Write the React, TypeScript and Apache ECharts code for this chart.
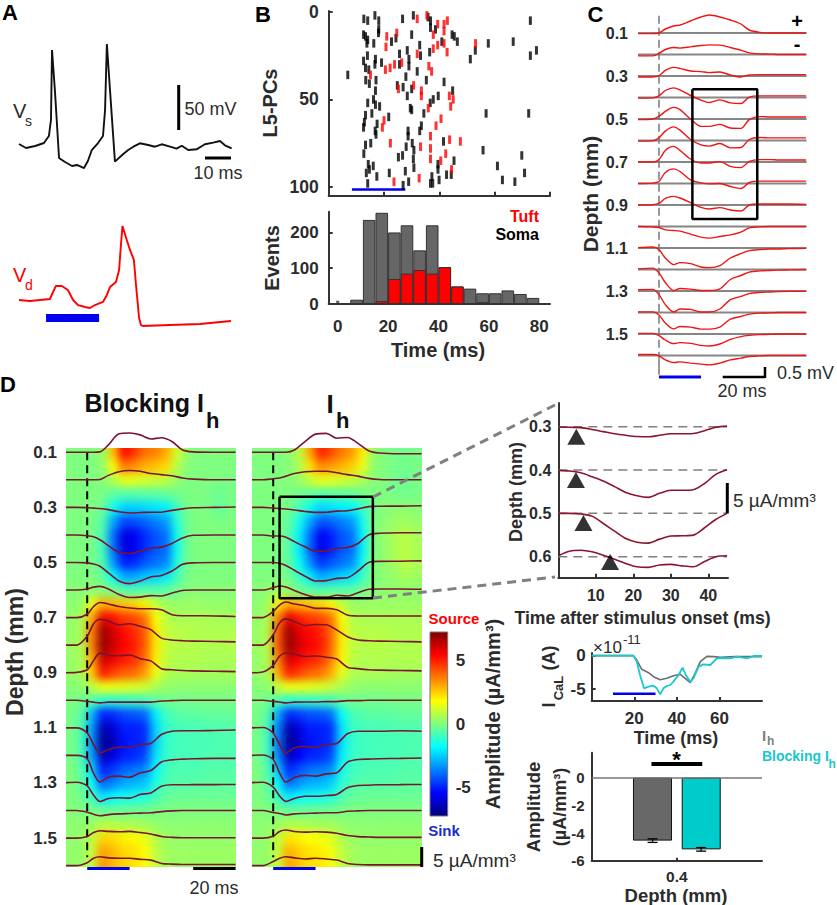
import React, { useEffect, useRef } from "react";
import * as echarts from "echarts";

const FONT = "Liberation Sans";
const INK = "#2b2b2b";
const JET = ["#00007f", "#0000ff", "#007fff", "#00ffff", "#7fff7f", "#ffff00", "#ff7f00", "#ff0000", "#7f0000"];

// Panel A
const VS_T = [0,2.7,6.2,9.6,11.5,12.3,12.7,13.8,15.4,17.7,20.4,22.3,25,26.5,28,30.4,32.3,33.1,33.8,35,36.9,40.1,42,44,46.5,49.7,52.3,54.9,58.1,60.6,62.6,65.1,68.3,71.5,74.7,77.3,79.2,81.8];
const VS_V = [-63.9,-68.3,-66.1,-62.8,-55,-37.2,40.6,-3.9,-79.4,-83.9,-88.3,-87.2,-90.6,-82.8,-70.6,-62.8,-55,-26.1,47.2,-3.9,-83.5,-75,-70.6,-66.9,-63.1,-65,-66.9,-64.2,-66.9,-69.1,-65.8,-70.6,-69.8,-64.2,-62.4,-60.6,-65.3,-68.7];
const VD_T = [0,4.2,8.1,11.9,13.1,14.2,16.5,18.8,20.8,22.7,25.4,27.3,29.2,32.3,33.8,35,37.3,38.5,39.2,39.8,41.2,42.7,44.2,45,46.2,46.9,47.7,58,69.6,81.5];
const VD_V = [-70,-71.1,-70,-68.9,-61.1,-54.4,-54.4,-58.9,-70,-75.6,-77.8,-78.9,-75.6,-72.2,-64.4,-55.6,-50,-36.7,-8.9,12.2,-1.1,-14.4,-25.6,-53.3,-90,-97.8,-98.9,-97.8,-96.7,-93.3];

// Panel B: raster [time ms, cell]
const SPIKES_SOMA = [[12.7,4],[14.1,5],[16.7,2],[18.1,5],[18.1,10],[26.7,4],[30.6,2],[35.9,3],[36.8,5],[36.8,9],[38.6,10],[72.9,5],[12.6,13],[13.3,14],[14.1,16],[16.3,18],[13.8,18],[18,12],[22.7,17],[24.3,15],[30,13],[44.6,13],[45.4,14],[46.5,17],[40.9,17],[32.9,19],[57.7,18],[66.7,17],[53,22],[51.2,27],[75.1,22],[72.9,25],[12.6,28],[14,25],[13.3,32],[14.5,33],[16.9,27],[16.7,30],[19.1,29],[25.6,24],[25.6,30],[28.4,22],[29,27],[29,31],[33.2,25],[32,34],[36.5,23],[6.9,36],[13.4,39],[14.7,41],[17.1,39],[27.9,37],[35.3,39],[41.7,40],[24.8,42],[26.9,43],[30,44],[28.4,48],[16.9,45],[16.2,50],[16.9,53],[18.4,54],[14.1,52],[44.8,45],[39.6,48],[37.8,50],[36.7,52],[29.5,55],[30,56],[34.4,58],[15.6,58],[21.7,60],[56.9,58],[72.3,58],[13.3,59],[12.9,63],[12.6,66],[17.5,64],[17.1,70],[16.8,68],[28.7,68],[28.7,71],[33.5,65],[32.9,68],[15.2,75],[13.3,76],[12.7,81],[30.2,75],[28,77],[30.8,79],[26.7,82],[25.2,83],[30.6,84],[41.5,74],[55.8,79],[69.8,82],[14.3,87],[14.7,90],[16.1,88],[30.8,89],[45.3,85],[61,88],[39.5,87],[39.5,90],[21.9,92],[27.7,91],[17.4,94],[13.6,92],[14.1,98],[28.9,97],[26.9,99],[37.3,94],[36.8,98],[37.6,98],[39.9,96],[42.6,93],[44.3,93],[62.8,96],[67.3,97],[70.8,92]];
const SPIKES_TUFT = [[32,4],[35.5,2],[39.4,7],[41.7,7],[41.7,11],[42.9,5],[37.8,13],[21,14],[24.6,12],[20.7,20],[37.8,21],[39.4,19],[41.7,18],[42.8,23],[53.1,18],[32,24],[20.5,33],[22.2,32],[23.8,30],[26.4,29],[36.2,31],[37.2,34],[15.1,36],[25.2,44],[30.7,42],[33.5,45],[33.5,48],[43.6,48],[44.1,54],[45,50],[36,55],[20,62],[19.4,66],[40.6,61],[38.8,65],[36.8,71],[22.3,75],[33.2,77],[36.8,78],[43.7,73],[47.6,74],[42.3,81],[36.8,84],[40.5,85],[44.4,90],[32.7,95],[23.6,97]];
const HIST_SOMA = [[7.5,12],[12.5,235],[17.5,255],[22.5,200],[27.5,220],[32.5,150],[37.5,220],[42.5,103],[47.5,49],[52.5,43],[57.5,30],[62.5,30],[67.5,38],[72.5,28],[77.5,17]];
const HIST_TUFT = [[17.5,8],[22.5,70],[27.5,85],[32.5,95],[37.5,85],[42.5,103],[47.5,49],[57.5,5]];
const HIST_STRAY = [[0,5]];

// Panel C: LFP (mV) per depth
const C_DEPTHS = [0.1,0.2,0.3,0.4,0.5,0.6,0.7,0.8,0.9,1.0,1.1,1.2,1.3,1.4,1.5,1.6];
const C_T = [-10,-3,0,3,7,10,15,20,24,29,34,39,43,48,53,57,62,70];
const C_LFP = [
  [-.03,-.03,0,.2,.35,.4,.6,.8,.9,.8,.65,.45,.15,.03,0,0,0,0],
  [-.07,-.07,.05,.25,.35,.32,.38,.45,.48,.47,.35,.22,.08,.03,.02,0,0,0],
  [-.05,-.05,.02,.28,.43,.38,.25,.22,.17,.2,.05,-.05,.05,.07,.07,.07,.07,.07],
  [-.03,-.02,.08,.35,.48,.38,.1,-.13,-.25,-.12,-.27,-.3,.02,.08,.08,.08,.08,.08],
  [-.03,0,.13,.38,.58,.47,0,-.37,-.37,-.27,-.45,-.47,-.03,.12,.1,.1,.1,.1],
  [-.03,-.02,.13,.47,.68,.52,.05,-.22,-.28,-.15,-.37,-.35,.05,.15,.13,.13,.13,.13],
  [0,0,.12,.58,.78,.58,.15,-.05,-.05,.02,-.22,-.28,.03,.12,.12,.1,.1,.1],
  [0,.02,.1,.55,.73,.6,.18,.03,-.02,0,-.15,-.25,.05,.12,.12,.12,.12,.12],
  [0,.02,.08,.33,.43,.35,.12,-.12,-.2,-.13,-.25,-.3,0,.05,.05,.05,.05,.03],
  [0,-.02,-.05,-.17,-.2,-.23,-.38,-.53,-.58,-.5,-.42,-.28,-.07,-.02,0,0,0,0],
  [.02,.05,-.08,-.5,-.83,-.73,-.78,-.95,-.98,-.88,-.5,-.28,-.13,-.08,-.05,-.05,-.03,-.02],
  [.03,.07,-.17,-.65,-1.05,-.95,-.98,-1.05,-1.05,-.97,-.5,-.3,-.13,-.07,-.05,-.03,-.02,0],
  [.07,.08,-.18,-.68,-1.05,-.9,-.92,-1.05,-1.05,-.9,-.43,-.27,-.13,-.07,-.05,-.03,-.02,-.02],
  [.03,.03,-.12,-.53,-.82,-.7,-.73,-.83,-.83,-.73,-.33,-.2,-.08,-.03,-.02,0,0,0],
  [.03,.03,-.08,-.3,-.48,-.43,-.47,-.57,-.6,-.5,-.27,-.13,-.07,-.03,-.02,0,0,0],
  [.05,.05,-.02,-.22,-.35,-.32,-.38,-.43,-.47,-.38,-.22,-.13,-.05,-.02,0,0,0,0],
];

// Panel D: traces (uA/mm3)
const D_T = [-10,-5,0,3,6,10,15,20,25,30,35,40,45,50,60,70];
const D_BLOCK_TRACES = [
  [0,0,0,0,.1,2,5,5.2,4.7,3.6,3.9,2.9,.6,.1,0,0],
  [0,0,0,0,.1,1.2,2.2,2.5,2.3,1.7,1.4,1.1,.5,.2,0,0],
  [0,0,-.1,-.2,-.3,-.6,-1.2,-1.5,-1.4,-1.3,-1.3,-.8,-.4,-.1,0,.1],
  [0,0,-.2,-.5,-1.3,-2.9,-4.7,-5,-4.4,-3.6,-3.3,-2.3,-.8,-.1,0,0],
  [0,0,-.1,-.4,-1,-2.8,-5,-5.7,-5,-3.9,-3.5,-2.3,-.5,-.1,0,0],
  [0,0,.3,.8,1,.3,-1.2,-2,-1.9,-1.5,-1.6,-.8,-.1,0,0,0],
  [0,0,.9,3,4.1,3.7,3,2.6,2.4,2.4,2.1,.8,.5,.5,.45,.3],
  [0,0,2.4,5.8,7,6.5,5.5,5.8,5.1,4.2,1.9,1.4,1.2,1.1,1,.9],
  [0,.1,.8,3.3,5.3,4.7,4.6,4.8,3.8,3.2,1.1,.8,.6,.5,.4,.3],
  [0,0,-.3,-.5,-.7,-.5,-.5,-.5,-.5,-.5,-.2,-.1,0,0,0,0],
  [0,0,-1.4,-4.5,-6.8,-5.9,-5.2,-5.3,-4.5,-4.2,-1.8,-.9,-.8,-.8,-.7,-.6],
  [0,0,-.9,-4.8,-7.2,-5.9,-5.6,-5.9,-4.7,-4.1,-1.8,-1.2,-1,-.9,-.8,-.8],
  [.1,.2,-.8,-3.3,-5,-4.2,-4,-4.1,-3.1,-2.7,-.9,-.5,-.5,-.45,-.45,-.4],
  [0,0,-.45,-1,-1.4,-1.1,-.9,-.8,-.7,-.6,-.3,-.1,0,0,0,0],
  [0,0,.45,1.5,2,1.8,1.7,1.8,1.5,1.1,.45,.2,.1,.1,.1,.1],
  [0,0,.8,2,2.4,2.1,2,2,1.7,1.5,.6,.4,.3,.3,.3,.3],
];
const D_IH_TRACES = [
  [0,0,0,0,0,.6,2.9,4.9,5.1,3.8,4,2.4,.4,-.2,-.4,-.4],
  [0,0,.3,.5,1,1.7,2.2,2.3,2.3,1.9,1.4,1,.4,.1,0,0],
  [0,0,-.2,-.3,-.45,-.7,-1.1,-1.35,-1.3,-1,-.9,-.4,.2,.3,.35,.45],
  [0,0,-.3,-.3,-.6,-1.8,-3.2,-4.4,-4.3,-3.6,-3.4,-2.3,0,.45,.6,.6],
  [0,0,0,-.2,-.8,-2.1,-3.7,-5,-4.9,-4.3,-4.1,-2.3,0,.3,.35,.45],
  [0,0,.6,1.1,.8,-.1,-1.2,-1.9,-1.9,-1.4,-1.6,-.7,.2,.3,.3,.2],
  [0,0,1.6,3.4,4.2,3.7,3.2,2.5,2.5,2.1,.7,.45,.45,.45,.45,.45],
  [0,0,2.8,6,7.1,6.4,5.3,5.6,5.5,4.1,2.3,1.4,1.2,1.1,1,.9],
  [0,.2,2,4.5,5.4,5,4.4,4.5,4.2,3.7,1.5,1.1,.8,.7,.6,.5],
  [0,0,-.3,-.45,-.7,-.5,-.45,-.45,-.35,-.35,-.1,-.1,0,0,0,0],
  [0,.1,-1.4,-4.5,-6.8,-5.4,-5,-5.3,-4.5,-4.2,-1.6,-.9,-.9,-.9,-.8,-.9],
  [0,.1,-1.1,-4.7,-7.2,-6,-5.4,-5.6,-5,-4.7,-1.8,-1.1,-1,-.9,-.8,-.7],
  [.1,.2,-1.1,-3.5,-5,-4.2,-3.6,-3.6,-3.4,-3.1,-1.3,-.7,-.6,-.5,-.45,-.4],
  [0,0,-.5,-.8,-1.2,-.9,-.8,-.7,-.6,-.6,-.2,-.1,0,0,0,0],
  [0,0,.5,1.8,2.2,1.8,1.6,1.7,1.6,1.3,.7,.4,.3,.2,.2,.2],
  [0,0,1.1,2,2.4,2.1,1.8,2,1.8,1.5,.6,.3,.2,.2,.2,.2],
];

// Panel D: amplitude maps; rows 0.10..1.60 mm step .05, cols -7.5..67.5 ms step 5
const HEAT_BLOCK = [
  [0,0,0,.3,2.6,5.4,4.6,3.8,3.6,3,1.2,.2,0,0,0,0],
  [0,0,0,.2,1.8,3.7,3.4,2.9,2.7,2.3,.8,.1,0,0,0,0],
  [0,0,0,.1,.7,1.5,1.4,1.2,1.1,.9,.3,0,0,0,-.1,-.1],
  [0,0,0,-.1,-.5,-.6,-.6,-.5,-.5,-.4,-.2,-.1,0,-.1,-.3,-.1],
  [0,0,0,-.3,-1.6,-2.4,-2.4,-2.3,-2.1,-2,-.9,-.1,0,-.1,-.4,-.1],
  [0,0,-.1,-.6,-3,-4.4,-4.3,-4,-3.6,-3.2,-1.3,-.2,0,0,-.1,0],
  [0,0,-.1,-.8,-3.8,-5.8,-5.6,-4.8,-4.2,-3.8,-1.6,-.2,0,0,0,0],
  [0,0,-.1,-.8,-3.8,-6,-5.6,-4.8,-4.2,-3.9,-1.6,-.2,0,0,0,0],
  [0,0,-.1,-.7,-3.2,-5,-4.8,-4.2,-3.8,-3.5,-1.4,-.2,0,0,0,0],
  [0,0,0,-.4,-1.8,-3,-3,-2.6,-2.4,-2.1,-.9,-.1,0,0,0,0],
  [.1,.1,.2,.1,-.2,-.6,-.7,-.6,-.6,-.5,-.2,.1,.1,.1,.1,.1],
  [.2,.3,1.6,3,2.8,2.6,2.4,2,1,.5,.3,.4,.4,.3,.3,.3],
  [.3,.5,3,5.7,5.2,4.6,4.4,3.8,1.8,.8,.6,.6,.6,.6,.5,.5],
  [.3,.6,3.6,6.8,6,5.3,4.8,4.1,2.1,1,.8,.8,.7,.7,.7,.7],
  [.4,.6,3.6,6.9,6.1,5.4,5,4.1,2.1,1,.8,.8,.7,.7,.7,.7],
  [.3,.6,3,6.2,5.6,5.1,4.7,3.9,2,.9,.7,.7,.7,.6,.6,.6],
  [.3,.5,2.5,5.1,4.5,4.1,3.9,3.2,1.6,.7,.6,.6,.5,.5,.5,.5],
  [.1,.2,.8,1.6,1.5,1.4,1.3,1.1,.6,.3,.2,.2,.2,.2,.2,.2],
  [0,-.2,-.6,-1.2,-1.2,-1.1,-1,-.9,-.5,-.2,-.2,-.2,-.1,-.1,-.1,-.1],
  [-.1,-.5,-2.8,-5,-4.8,-4.4,-4.2,-4,-2,-.9,-.6,-.5,-.5,-.4,-.4,-.4],
  [-.1,-.7,-3.2,-6.5,-6,-5,-5,-4.8,-2.4,-1.1,-.9,-.8,-.8,-.7,-.7,-.6],
  [-.1,-.7,-3.4,-7,-6.5,-5.2,-5,-4.8,-2.4,-1.1,-.9,-.8,-.8,-.8,-.7,-.7],
  [-.1,-.7,-3.2,-6.5,-5.8,-5,-4.8,-4.4,-2.2,-1,-.8,-.8,-.8,-.7,-.7,-.7],
  [0,-.5,-2.3,-5,-4.6,-4,-3.8,-3.5,-1.8,-.9,-.7,-.7,-.7,-.6,-.6,-.6],
  [0,-.4,-1.7,-4,-3.5,-3,-2.8,-2.6,-1.4,-.7,-.6,-.6,-.5,-.5,-.5,-.5],
  [0,-.2,-.9,-2.2,-1.8,-1.6,-1.5,-1.3,-.8,-.4,-.3,-.3,-.3,-.3,-.3,-.3],
  [.1,0,-.1,-.3,-.3,-.3,-.2,-.2,-.1,0,0,0,0,0,0,0],
  [.2,.2,.4,.8,.8,.7,.6,.5,.3,.2,.2,.2,.2,.2,.2,.2],
  [.2,.3,.9,2.4,2.3,2,1.9,1.5,.8,.4,.3,.3,.3,.3,.3,.3],
  [.3,.3,1,3.2,2.8,2.4,2.2,1.8,.9,.5,.4,.4,.4,.4,.4,.4],
  [.3,.3,1,3.3,2.8,2.4,2.2,1.8,.9,.5,.4,.4,.4,.4,.4,.4],
];
const HEAT_IH = [
  [0,0,0,.1,.8,3,5,4.4,3.7,3.2,2,.3,0,-.1,-.2,-.1],
  [0,0,0,.1,.6,2.2,3.5,3.2,2.9,2.5,1.5,.2,0,-.1,-.2,-.1],
  [0,0,0,.1,.3,1,1.5,1.4,1.2,1,.6,.1,0,-.2,-.3,-.1],
  [0,0,0,0,-.2,-.4,-.6,-.5,-.5,-.4,-.2,0,0,-.1,-.2,-.1],
  [0,0,0,-.2,-.8,-1.6,-2.3,-2.2,-2,-1.9,-1,-.2,.1,.1,.2,.1],
  [0,0,-.1,-.4,-1.5,-3,-4.2,-4,-3.6,-3.2,-1.6,-.1,.2,.4,.5,.3],
  [0,0,-.1,-.5,-1.9,-3.8,-5.6,-5,-4.2,-3.8,-1.9,-.1,.3,.6,.8,.5],
  [0,0,-.1,-.5,-2,-4,-5.8,-5,-4.2,-3.9,-1.9,-.1,.3,.6,.9,.6],
  [0,0,-.1,-.4,-1.7,-3.3,-4.7,-4.2,-3.8,-3.4,-1.6,0,.3,.5,.9,.6],
  [0,0,0,-.2,-1,-2,-3,-2.7,-2.4,-2.1,-1,0,.2,.3,.6,.4],
  [.1,.2,.6,.2,-.2,-.5,-.7,-.6,-.6,-.5,-.2,.1,.2,.2,.3,.2],
  [.2,.4,2,3.1,2.8,2.6,2.4,2,1,.4,.4,.4,.4,.4,.4,.4],
  [.3,.6,3.6,5.8,5,4.6,4.4,3.8,1.8,.7,.6,.6,.6,.6,.6,.6],
  [.3,.7,4.2,6.8,5.8,5.3,5,4,2,.9,.8,.8,.8,.7,.7,.7],
  [.4,.7,4.2,6.9,6,5.5,5.1,4,2,.9,.8,.8,.8,.7,.7,.7],
  [.3,.6,3.6,6.1,5.4,5,4.7,3.7,1.9,.8,.7,.7,.7,.7,.7,.7],
  [.3,.5,3,5,4.5,4,3.8,3,1.5,.7,.6,.6,.6,.5,.5,.5],
  [.1,.2,1,1.6,1.5,1.4,1.3,1,.6,.3,.2,.2,.2,.2,.2,.2],
  [0,-.2,-.7,-1.2,-1.2,-1.1,-1,-.9,-.4,-.2,-.2,-.2,-.2,-.1,-.1,-.1],
  [-.1,-.5,-3,-4.9,-4.6,-4.3,-4.2,-3.9,-1.8,-.8,-.6,-.5,-.5,-.5,-.4,-.4],
  [-.1,-.8,-3.6,-6.6,-5.8,-5,-5,-4.8,-2.2,-1,-.9,-.8,-.8,-.7,-.7,-.7],
  [-.1,-.8,-3.8,-7,-6.2,-5.2,-5,-4.8,-2.2,-1.1,-.9,-.9,-.8,-.8,-.8,-.7],
  [-.1,-.8,-3.5,-6.4,-5.5,-4.9,-4.8,-4.4,-2,-1,-.9,-.8,-.8,-.8,-.7,-.7],
  [0,-.6,-2.6,-4.9,-4.3,-3.8,-3.7,-3.4,-1.6,-.9,-.8,-.7,-.7,-.7,-.6,-.6],
  [0,-.4,-1.9,-3.9,-3.3,-2.9,-2.8,-2.5,-1.2,-.7,-.6,-.6,-.6,-.5,-.5,-.5],
  [0,-.2,-1,-2.1,-1.7,-1.6,-1.5,-1.3,-.7,-.4,-.3,-.3,-.3,-.3,-.3,-.3],
  [.1,0,-.1,-.3,-.3,-.3,-.2,-.2,-.1,0,0,0,0,0,0,0],
  [.2,.2,.4,.7,.7,.6,.5,.5,.3,.2,.2,.2,.2,.2,.2,.2],
  [.2,.3,.9,2.2,2,1.8,1.7,1.4,.7,.4,.3,.3,.3,.3,.3,.3],
  [.3,.3,1,3,2.5,2.2,2.1,1.7,.9,.5,.4,.4,.4,.4,.4,.4],
  [.3,.3,1,3.1,2.6,2.2,2.1,1.7,.9,.5,.4,.4,.4,.4,.4,.4],
];

// Inset of D
const INSET_DEPTHS = [0.3,0.4,0.5,0.6];
const INSET_T = [0,3,6,9,12,15,18,21,24,27,30,33,36,39,42,45];
const INSET_TRACES = [
  [-.05,-.1,-.15,-.45,-.8,-1.15,-1.4,-1.6,-1.65,-1.4,-1.15,-1.15,-1.1,-.65,-.1,.1],
  [-.05,-.15,-.45,-1.1,-1.8,-2.7,-3.65,-4.2,-4.45,-3.8,-3.3,-3.3,-3.2,-2.2,-.7,.05],
  [0,0,-.1,-.45,-1.65,-2.9,-4.1,-4.7,-4.85,-4.2,-3.7,-3.65,-3.55,-2.35,-1,0],
  [.15,.9,1.05,.8,.25,-.4,-1.1,-1.65,-1.75,-1.35,-1.25,-1.5,-1.65,-.8,0,.15],
];
const ONSETS = [[4.8,.323],[4.7,.423],[6.7,.522],[13.8,.612]];

// I_CaL
const CAL_IH = [[0,0],[19.6,0],[21.2,-.65],[23.5,-2.05],[26.7,-2.55],[29,-3.15],[32.2,-3.6],[35.3,-3.4],[38.4,-3],[41.6,-2.8],[43.9,-3.4],[46.3,-4.05],[48.6,-2.65],[51,-.9],[54.1,-.1],[57.3,-.15],[60.4,-.25],[66.7,-.15],[73,-.15],[80,-.15]];
const CAL_BLOCK_T = [0,19.6,21.2,22.7,24.6,26.7,29,30.6,32.2,33.7,35.3,36.9,38.4,40.8,42.7,44.2,46.3,47.8,50.2,52.5,55.7,58.8,62,65.1,68.2,73,76.1,80];
const CAL_BLOCK_V = [0,0,-.9,-2.9,-4.9,-4.65,-4.5,-4.9,-5.8,-4.9,-4.55,-4.4,-3.9,-2.9,-1.8,-2.9,-3.9,-3.4,-1.65,-1.3,-1.4,-.4,-.35,-.4,-.15,-.4,-.05,-.05];

// Bar panel
const BAR_CATS = ["0.4"];
const BAR_IH = [-4.55];
const BAR_BLOCK = [-5.18];
const BAR_ERR = 0.13;

const zip = (a: number[], b: number[]) => a.map((v, i) => [v, b[i]]);

function buildMain() {
  const grid: any[] = [], xAxis: any[] = [], yAxis: any[] = [], series: any[] = [], graphic: any[] = [];
  const spine = { lineStyle: { color: "#333", width: 2 } };
  const tickL = (size: number) => ({ color: INK, fontFamily: FONT, fontWeight: "bold", fontSize: size });
  const hidden = (min: number, max: number, inverse = false) => ({ type: "value", show: false, min, max, inverse, splitLine: { show: false } });

  const panel = (r: number[], x: any, y: any) => {
    grid.push({ left: r[0], top: r[1], width: r[2], height: r[3], containLabel: false });
    xAxis.push({ gridIndex: grid.length - 1, ...x });
    yAxis.push({ gridIndex: grid.length - 1, ...y });
    return grid.length - 1;
  };
  const line = (g: number, data: any[], color: string, width: number, extra: any = {}) => {
    series.push({ type: "line", xAxisIndex: g, yAxisIndex: g, data, symbol: "none", clip: false, silent: true,
      lineStyle: { color, width, type: extra.dash || "solid", cap: "butt" }, smooth: extra.smooth || false, z: extra.z || 3 });
  };
  const valAxis = (min: number, max: number, ticks: number[], o: any = {}) => ({
    type: "value", min, max, inverse: !!o.inverse, position: o.position, splitLine: { show: false },
    axisLine: { show: o.line !== false, onZero: false, ...spine },
    axisTick: { show: o.tick !== false, inside: true, length: o.tickLen || 4, customValues: ticks, lineStyle: { color: "#333", width: 2 } },
    axisLabel: o.noLabel ? { show: false } : { ...tickL(o.size || 16), margin: o.margin ?? 8, customValues: ticks, hideOverlap: false, formatter: o.fmt },
  });
  const txt = (x: number, y: number, text: string, o: any = {}) => {
    graphic.push({ type: "text", x, y, rotation: o.rot ? Math.PI / 2 : 0, silent: true, z: 20,
      style: { text, fontSize: o.size || 16, fontWeight: o.bold ? "bold" : "normal", fontStyle: o.italic ? "italic" : "normal",
        fill: o.color || INK, fontFamily: FONT, align: o.align || "center", verticalAlign: "middle" } });
  };
  const seg = (x1: number, y1: number, x2: number, y2: number, color: string, w: number, dash?: number[]) => {
    graphic.push({ type: "line", silent: true, z: 20, shape: { x1, y1, x2, y2 }, style: { stroke: color, lineWidth: w, lineDash: dash || null } });
  };

  // ---- A
  const a1 = panel([19, 41.5, 213.2, 135], hidden(0, 82), hidden(-100, 50));
  line(a1, zip(VS_T, VS_V), "#111", 1.9);
  const a2 = panel([19, 214.5, 213.2, 121.5], hidden(0, 82), hidden(-110, 25));
  line(a2, zip(VD_T, VD_V), "#ff0000", 1.9);
  line(a2, [[10.4, -90], [30.8, -90]], "#0000ee", 8);
  seg(178.7, 85, 178.7, 130, "#000", 3);
  seg(205, 158, 231, 158, "#000", 3);
  txt(210.5, 109, "50 mV", { size: 18 });
  txt(218, 173, "10 ms", { size: 18 });
  txt(13, 111, "V", { size: 20, align: "left" });
  txt(25, 121, "s", { size: 14, align: "left" });
  txt(13, 275, "V", { size: 20, align: "left", color: "#ff0000" });
  txt(25, 285, "d", { size: 14, align: "left", color: "#ff0000" });
  txt(10, 12, "A", { size: 22, bold: true, color: "#000" });
  txt(263, 14, "B", { size: 22, bold: true, color: "#000" });
  txt(595.5, 14, "C", { size: 22, bold: true, color: "#000" });
  txt(8, 384, "D", { size: 22, bold: true, color: "#000" });

  // ---- B raster
  const b1 = panel([328.7, 11, 221.3, 184.7],
    valAxis(0, 80, [20, 40, 60, 80], { noLabel: true, position: "bottom" }),
    valAxis(-0.5, 105, [0, 50, 100], { inverse: true, margin: 10, tickLen: 4, size: 17.5 }));
  const raster = (data: number[][], color: string) => series.push({ type: "scatter", xAxisIndex: b1, yAxisIndex: b1, data, symbol: "rect", symbolSize: [3, 8.5], clip: false, silent: true,
    itemStyle: { color }, z: 3 });
  raster(SPIKES_SOMA, "#000");
  raster(SPIKES_TUFT, "#ff0000");
  line(b1, [[8.4, 101.4], [27.7, 101.4]], "#0000ee", 2.5);
  txt(270, 103, "L5-PCs", { size: 20, bold: true, rot: true });

  // ---- B histogram
  const b2 = panel([328.7, 211.7, 221.3, 92.3],
    valAxis(-3.57, 84.25, [0, 20, 40, 60, 80], { tick: false, margin: 14, size: 17 }),
    valAxis(0, 258, [0, 100, 200], { margin: 10, size: 17 }));
  const hist = (data: number[][], color: string) => series.push({ type: "bar", xAxisIndex: b2, yAxisIndex: b2, data, barWidth: 12.6, barGap: "-100%", silent: true,
    itemStyle: { color, borderColor: "#333", borderWidth: 1 } });
  hist(HIST_SOMA, "#666666");
  hist(HIST_TUFT, "#ff0000");
  series.push({ type: "scatter", xAxisIndex: b2, yAxisIndex: b2, data: HIST_STRAY, symbol: "rect", symbolSize: [3, 3], silent: true, clip: false, itemStyle: { color: "#333" } });
  txt(272, 258, "Events", { size: 20, bold: true, rot: true });
  txt(438, 350, "Time (ms)", { size: 20, bold: true });
  txt(539, 216, "Tuft", { size: 16, bold: true, color: "#ff0000", align: "right" });
  txt(539, 234, "Soma", { size: 16, bold: true, color: "#000", align: "right" });

  // ---- C
  const c = panel([638, 11.5, 168.6, 365.5], hidden(-10, 70.3),
    valAxis(0, 1.7, [0.1, 0.3, 0.5, 0.7, 0.9, 1.1, 1.3, 1.5], { inverse: true, line: false, tick: false, margin: 10, fmt: (v: number) => v.toFixed(1) }));
  C_DEPTHS.forEach((d) => line(c, [[-10, d], [70.3, d]], "#868686", 2));
  line(c, [[0, 0.02], [0, 1.62]], "#777", 1.5, { dash: [8, 4] });
  line(c, [[0, 1.62], [0, 1.69]], "#777", 1.5);
  C_LFP.forEach((tr, i) => line(c, tr.map((v, j) => [C_T[j], C_DEPTHS[i] - v * 0.093]), "#f01414", 1.4, { smooth: 0.3, z: 4 }));
  line(c, [[15.9, 0.362], [46.8, 0.362], [46.8, 0.965], [15.9, 0.965], [15.9, 0.362]], "#000", 2.5, { z: 5 });
  line(c, [[0, 1.7], [20, 1.7]], "#0000ee", 3);
  seg(722.7, 377, 765, 377, "#000", 2.5);
  seg(765, 367, 765, 378, "#000", 2.5);
  txt(777, 373, "0.5 mV", { size: 18, align: "left" });
  txt(742, 391, "20 ms", { size: 18 });
  txt(797, 21, "+", { size: 20, bold: true, color: "#000" });
  txt(797, 44, "-", { size: 20, bold: true, color: "#000" });
  txt(590, 194, "Depth (mm)", { size: 21, bold: true, rot: true });

  // ---- D maps (overlays; colours are in the heat layers beneath)
  const mapPanel = (left: number, tr: number[][], labels: boolean) => {
    const g = panel([left, 424.7, 169.6, 468.5], hidden(-10, 70),
      labels ? valAxis(0, 1.7, [0.1, 0.3, 0.5, 0.7, 0.9, 1.1, 1.3, 1.5], { inverse: true, line: false, tick: false, margin: 9, size: 17, fmt: (v: number) => v.toFixed(1) })
             : hidden(0, 1.7, true));
    line(g, [[0, 0.1], [0, 1.57]], "#000", 2, { dash: [8, 5], z: 4 });
    C_DEPTHS.forEach((d, i) => line(g, tr[i].map((v, j) => [D_T[j], d - v * 0.01343]), "#7b1430", 1.6, { smooth: 0.3, z: 5 }));
    line(g, [[0, 1.61], [20, 1.61]], "#0000ee", 3);
    return g;
  };
  const d1 = mapPanel(66, D_BLOCK_TRACES, true);
  line(d1, [[50, 1.61], [70, 1.61]], "#000", 3);
  const d2 = mapPanel(252, D_IH_TRACES, false);
  line(d2, [[3, 0.261], [47, 0.261], [47, 0.63], [3, 0.63], [3, 0.261]], "#000", 2.5, { z: 6 });
  seg(421.7, 847, 421.7, 867, "#000", 3);
  txt(214, 888, "20 ms", { size: 18 });
  txt(433, 860, "5 \u00b5A/mm\u00b3", { size: 19, align: "left" });
  txt(204, 403, "Blocking I", { size: 25, bold: true, color: "#111", align: "right" });
  txt(206, 420, "h", { size: 22, bold: true, color: "#111", align: "left" });
  txt(330, 404, "I", { size: 26, bold: true, color: "#111" });
  txt(336, 420, "h", { size: 22, bold: true, color: "#111", align: "left" });
  txt(15, 652, "Depth (mm)", { size: 23, bold: true, rot: true });

  // connectors
  seg(373, 497, 555, 405, "#808080", 3, [9, 6]);
  seg(373, 598, 555, 577, "#808080", 3, [9, 6]);

  // ---- colour bar
  panel([430, 632, 17.7, 184], hidden(0, 1),
    { ...valAxis(-7.2, 7.2, [-5, 0, 5], { position: "right", margin: 8, size: 17 }),
      axisLine: { show: false, onZero: false }, axisTick: { show: true, inside: true, length: 9, customValues: [-5, 0, 5], lineStyle: { color: "#333", width: 1 } } });
  graphic.push({ type: "rect", silent: true, z: 1, shape: { x: 430, y: 632, width: 17.7, height: 184 },
    style: { stroke: "#777", lineWidth: 1,
      fill: new (echarts as any).graphic.LinearGradient(0, 1, 0, 0, JET.map((color, i) => ({ offset: i / (JET.length - 1), color }))) } });
  txt(454, 618, "Source", { size: 15, bold: true, color: "#ff0000" });
  txt(444, 830, "Sink", { size: 15, bold: true, color: "#1a2ecc" });
  txt(493, 714, "Amplitude (\u00b5A/mm\u00b3)", { size: 20, bold: true, rot: true });

  // ---- inset
  const ins = panel([558.3, 403, 169.7, 174.7],
    valAxis(0, 45.25, [10, 20, 30, 40], { margin: 10, size: 16, position: "bottom" }),
    valAxis(0.2453, 0.6485, INSET_DEPTHS, { inverse: true, tick: false, margin: 7, size: 16, fmt: (v: number) => v.toFixed(1) }));
  INSET_DEPTHS.forEach((d, i) => {
    line(ins, [[0, d], [45, d]], "#808080", 1.5, { dash: [9, 6] });
    line(ins, INSET_T.map((t, j) => [t, d - INSET_TRACES[i][j] * 0.01416]), "#8a1530", 1.6, { smooth: 0.3, z: 5 });
  });
  series.push({ type: "scatter", xAxisIndex: ins, yAxisIndex: ins, data: ONSETS, symbol: "triangle", symbolSize: [18, 16], clip: false, silent: true, itemStyle: { color: "#000" }, z: 6 });
  seg(727.3, 483, 727.3, 513.5, "#000", 3);
  txt(733, 500, "5 \u00b5A/mm\u00b3", { size: 19, align: "left" });
  txt(516, 492, "Depth (mm)", { size: 18, bold: true, rot: true });
  txt(642.5, 618, "Time after stimulus onset (ms)", { size: 17.7, bold: true });

  // ---- I_CaL
  const ca = panel([591.7, 653, 170.3, 48],
    valAxis(0, 80, [20, 40, 60], { margin: 9, size: 17, position: "bottom" }),
    valAxis(-6.8, 0.4, [-5, 0], { margin: 6, size: 17 }));
  line(ca, CAL_IH, "#6e6e6e", 1.6);
  line(ca, zip(CAL_BLOCK_T, CAL_BLOCK_V), "#17c9ce", 1.8, { z: 4 });
  line(ca, [[10, -5.7], [30, -5.7]], "#0000ee", 2.5);
  txt(593, 647, "\u00d710", { size: 17, align: "left" });
  txt(623, 639, "-11", { size: 13, align: "left" });
  txt(676, 738, "Time (ms)", { size: 18, bold: true });
  txt(549, 705, "I", { size: 18, bold: true, rot: true });
  txt(558, 688, "CaL", { size: 13, bold: true, rot: true });
  txt(549, 658, "(A)", { size: 18, bold: true, rot: true });
  txt(762, 735, "I", { size: 15, bold: true, color: "#808080", align: "left" });
  txt(767, 741, "h", { size: 12, bold: true, color: "#808080", align: "left" });
  txt(762, 756, "Blocking I", { size: 14, bold: true, color: "#19c6cc", align: "left" });
  txt(828.5, 764, "h", { size: 12, bold: true, color: "#19c6cc", align: "left" });

  // ---- amplitude bars
  const br = panel([591.7, 752.7, 170.3, 108],
    { type: "category", data: BAR_CATS, axisLine: { onZero: false, ...spine }, axisTick: { show: true, inside: true, length: 3, alignWithLabel: true, lineStyle: { color: "#333", width: 2 } }, axisLabel: { ...tickL(15.5), margin: 8 } },
    valAxis(-6, 1.8, [-6, -4, -2, 0], { margin: 7, size: 15, tick: false }));
  const barItem = (data: number[], color: string, mark = false) => {
    const s: any = { type: "bar", xAxisIndex: br, yAxisIndex: br, data, barWidth: 39, barGap: "25%", silent: true,
      itemStyle: { color, borderColor: "#111", borderWidth: 1 } };
    if (mark) s.markLine = { silent: true, symbol: "none", label: { show: false }, lineStyle: { color: "#777", width: 1.5, type: "solid" }, data: [{ yAxis: 0 }] };
    series.push(s);
  };
  barItem(BAR_IH, "#686868", true);
  barItem(BAR_BLOCK, "#00cccc");
  series.push({ type: "custom", xAxisIndex: br, yAxisIndex: br, silent: true, z: 6, data: [[0, BAR_IH[0], -1], [0, BAR_BLOCK[0], 1]],
    renderItem: (_p: any, api: any) => {
      const off = api.value(2) * 24.3;
      const c0 = api.coord([api.value(0), api.value(1)]);
      const hi = api.coord([api.value(0), api.value(1) + BAR_ERR]);
      const lo = api.coord([api.value(0), api.value(1) - BAR_ERR]);
      const x = c0[0] + off;
      const l = (x1: number, y1: number, x2: number, y2: number) => ({ type: "line", shape: { x1, y1, x2, y2 }, style: { stroke: "#000", lineWidth: 1.3 } });
      return { type: "group", children: [l(x, hi[1], x, lo[1]), l(x - 5, hi[1], x + 5, hi[1]), l(x - 5, lo[1], x + 5, lo[1])] };
    } });
  series.push({ type: "custom", xAxisIndex: br, yAxisIndex: br, silent: true, z: 6, data: [[0, 0.99]],
    renderItem: (_p: any, api: any) => {
      const c0 = api.coord([api.value(0), api.value(1)]);
      return { type: "line", shape: { x1: c0[0] - 25.4, y1: c0[1], x2: c0[0] + 25.4, y2: c0[1] }, style: { stroke: "#000", lineWidth: 4 } };
    } });
  txt(676.5, 759, "*", { size: 22, bold: true, color: "#000" });
  txt(533, 807, "Amplitude", { size: 18.5, bold: true, rot: true });
  txt(560, 807, "(\u00b5A/mm\u00b3)", { size: 18, bold: true, rot: true });
  txt(676, 895, "Depth (mm)", { size: 18.5, bold: true });

  return { animation: false, backgroundColor: "transparent", tooltip: { show: false }, grid, xAxis, yAxis, series, graphic };
}

function buildHeat(matrix: number[][]) {
  // One hidden row/column is repeated at each edge so the soft edge of the blur stays outside the clip.
  const pad = (r: number[]) => [r[0], ...r, r[r.length - 1]];
  const rows = [pad(matrix[0]), ...matrix.map(pad), pad(matrix[matrix.length - 1])];
  const data: number[][] = [];
  rows.forEach((r, y) => r.forEach((v, x) => data.push([x, y, v])));
  return {
    animation: false,
    grid: { left: 0, right: 0, top: 0, bottom: 0 },
    xAxis: { type: "category", show: false, data: rows[0].map((_, i) => String(i)) },
    yAxis: { type: "category", show: false, inverse: true, data: rows.map((_, i) => String(i)) },
    visualMap: { show: false, min: -7.2, max: 7.2, inRange: { color: JET }, calculable: false },
    series: [{ type: "heatmap", data, silent: true, progressive: 0, itemStyle: { borderWidth: 0 } }],
  };
}

function HeatLayer({ left, matrix }: { left: number; matrix: number[][] }) {
  const ref = useRef<HTMLDivElement>(null);
  useEffect(() => {
    const c = echarts.init(ref.current!, undefined, { renderer: "svg" });
    c.setOption(buildHeat(matrix) as any);
    return () => c.dispose();
  }, [matrix]);
  return (
    <div style={{ position: "absolute", left, top: 448, width: 170, height: 419, overflow: "hidden" }}>
      <div ref={ref} style={{ position: "absolute", left: -10.6, top: -16.4, width: 191.2, height: 454.8, filter: "blur(4px)" }} />
    </div>
  );
}

export default function App() {
  const ref = useRef<HTMLDivElement>(null);
  useEffect(() => {
    const c = echarts.init(ref.current!, undefined, { renderer: "svg" });
    c.setOption(buildMain() as any);
    return () => c.dispose();
  }, []);
  return (
    <div style={{ position: "absolute", left: 0, top: 0, width: 837, height: 905, background: "#fff", overflow: "hidden" }}>
      <HeatLayer left={66} matrix={HEAT_BLOCK} />
      <HeatLayer left={252} matrix={HEAT_IH} />
      <div ref={ref} style={{ position: "absolute", left: 0, top: 0, width: 837, height: 905 }} />
    </div>
  );
}
